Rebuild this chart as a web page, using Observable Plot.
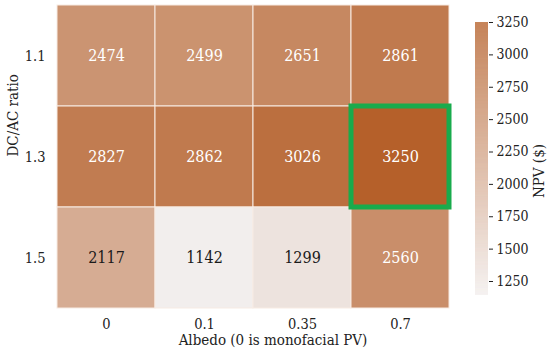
<!DOCTYPE html>
<html>
<head>
<meta charset="utf-8">
<script src="https://cdn.jsdelivr.net/npm/d3@7"></script>
<script src="https://cdn.jsdelivr.net/npm/@observablehq/plot@0.6"></script>
<style>
  body { margin: 0; background: white; }
  #wrap { position: relative; width: 550px; height: 357px; overflow: hidden; }
  #wrap > svg { position: absolute; top: 0; }
</style>
</head>
<body>
<div id="wrap"></div>
<script>
const albedo = ["0", "0.1", "0.35", "0.7"];
const dcac = ["1.1", "1.3", "1.5"];
const npv11 = [2474, 2499, 2651, 2861];
const npv13 = [2827, 2862, 3026, 3250];
const npv15 = [2117, 1142, 1299, 2560];
const cbarTicks = [1250, 1500, 1750, 2000, 2250, 2500, 2750, 3000, 3250];
const xTitle = "Albedo (0 is monofacial PV)";
const yTitle = "DC/AC ratio";
const cbarTitle = "NPV ($)";

const rows = [npv11, npv13, npv15];
const cells = [];
rows.forEach((r, i) => r.forEach((v, j) => cells.push({albedo: albedo[j], dcac: dcac[i], npv: v})));
const vmin = d3.min(cells, d => d.npv), vmax = d3.max(cells, d => d.npv);
const best = cells.filter(d => d.npv === vmax);

const colorOpts = {type: "linear", domain: [vmin, vmax], range: ["#f2eeed", "#b5602a"], interpolate: "rgb"};
const FF = "'DejaVu Serif Condensed', 'DejaVu Serif', serif";
const font = {fontFamily: FF, fontSize: "14.5px", color: "#222", background: "transparent"};

const main = Plot.plot({
  width: 455, height: 357,
  marginTop: 4, marginLeft: 55, marginRight: 5, marginBottom: 49,
  style: font,
  x: {domain: albedo, padding: 0, label: null},
  y: {domain: dcac, padding: 0, label: yTitle},
  color: colorOpts,
  marks: [
    Plot.cell(cells, {x: "albedo", y: "dcac", fill: "npv", stroke: "#f7ebe3", strokeWidth: 1, inset: 0}),
    Plot.text(cells, {x: "albedo", y: "dcac", text: d => String(d.npv), fill: d => d.npv > 2300 ? "white" : "#1a1a1a", fontSize: 16}),
    Plot.cell(best, {x: "albedo", y: "dcac", fill: "none", stroke: "#19ab4c", strokeWidth: 5, inset: 0}),
    Plot.axisX({tickSize: 0, tickPadding: 10, label: null, fontSize: 14.5}),
    Plot.axisY({tickSize: 0, tickPadding: 10, label: null, fontSize: 14.5}),
    Plot.text([yTitle], {frameAnchor: "left", rotate: -90, dx: -42, fontSize: 15, fill: "#222"}),
    Plot.text([xTitle], {frameAnchor: "bottom", dx: 20, dy: 36, fontSize: 15, fill: "#222"})
  ]
});
main.style.left = "0px";

const step = 2;
const ramp = d3.range(vmin, vmax, step);
const cbar = Plot.plot({
  width: 95, height: 357,
  marginTop: 22, marginBottom: 62, marginLeft: 20, marginRight: 62,
  style: font,
  y: {domain: [vmin, vmax], label: null},
  color: colorOpts,
  marks: [
    Plot.rect(ramp, {y1: d => d, y2: d => Math.min(d + step + 0.5, vmax), fill: d => d}),
    Plot.axisY({anchor: "right", ticks: cbarTicks, tickFormat: d3.format("d"), tickSize: 4, tickPadding: 4, fontSize: 14, label: null}),
    Plot.text([cbarTitle], {frameAnchor: "right", rotate: -90, dx: 51, dy: -15, fontSize: 15, fill: "#222"})
  ]
});
cbar.style.left = "455px";

document.getElementById("wrap").append(main, cbar);
</script>
</body>
</html>
